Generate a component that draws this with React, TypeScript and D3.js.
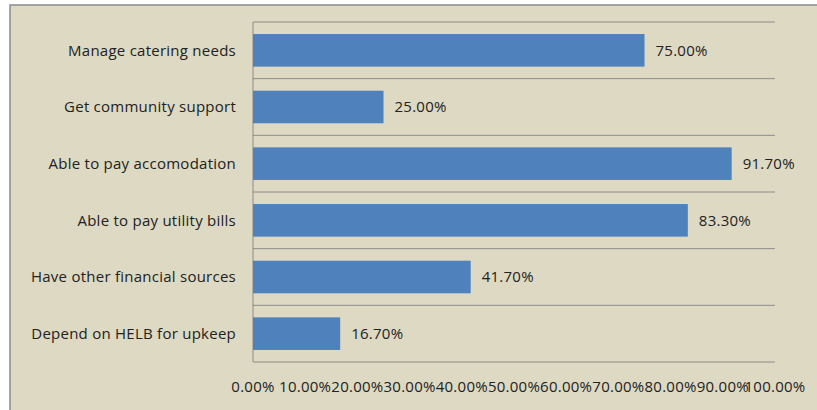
import React from "react";
import * as d3 from "d3";

const categories = [
  "Manage catering needs",
  "Get community support",
  "Able to pay accomodation",
  "Able to pay utility bills",
  "Have other financial sources",
  "Depend on HELB for upkeep",
];
const values = [75.0, 25.0, 91.7, 83.3, 41.7, 16.7];
const ticks = [0, 10, 20, 30, 40, 50, 60, 70, 80, 90, 100];

const W = 817;
const H = 410;
const left = 253;
const right = 775;
const top = 22;
const bottom = 362;
const font = "'Open Sans', 'DejaVu Sans', sans-serif";

export default function App() {
  const x = d3.scaleLinear().domain([0, 100]).range([left, right]);
  const y = d3.scaleBand<string>().domain(categories).range([top, bottom]).paddingInner(0.425).paddingOuter(0.2125);
  const step = (bottom - top) / categories.length;
  const lines = d3.range(categories.length + 1).map((i) => top + i * step);

  return (
    <svg width={W} height={H} style={{ position: "absolute", left: 0, top: 0 }}>
      <rect x={0} y={0} width={W} height={H} fill="#ffffff" />
      <rect x={10} y={5} width={W + 10} height={H + 10} fill="#DDD9C3" stroke="#8a8a8a" strokeWidth={1.5} />
      {lines.map((ly, i) => (
        <line key={i} x1={left} x2={right} y1={ly} y2={ly} stroke="#8c8c8c" strokeWidth={1} />
      ))}
      <line x1={left} x2={left} y1={top} y2={bottom} stroke="#8c8c8c" strokeWidth={1} />
      {categories.map((c, i) => (
        <g key={c}>
          <rect x={x(0)} y={y(c)!} width={x(values[i]) - x(0)} height={y.bandwidth()} fill="#4F81BD" />
          <text x={236} y={y(c)! + y.bandwidth() / 2} dy="0.35em" textAnchor="end" fontFamily={font} fontSize={15} letterSpacing={0.25} fill="#222">
            {c}
          </text>
          <text x={x(values[i]) + 11} y={y(c)! + y.bandwidth() / 2} dy="0.35em" fontFamily={font} fontSize={15} letterSpacing={0.25} fill="#222">
            {values[i].toFixed(2) + "%"}
          </text>
        </g>
      ))}
      {ticks.map((t) => (
        <text key={t} x={x(t)} y={387} dy="0.35em" textAnchor="middle" fontFamily={font} fontSize={15} letterSpacing={0.25} fill="#222">
          {t.toFixed(2) + "%"}
        </text>
      ))}
    </svg>
  );
}
